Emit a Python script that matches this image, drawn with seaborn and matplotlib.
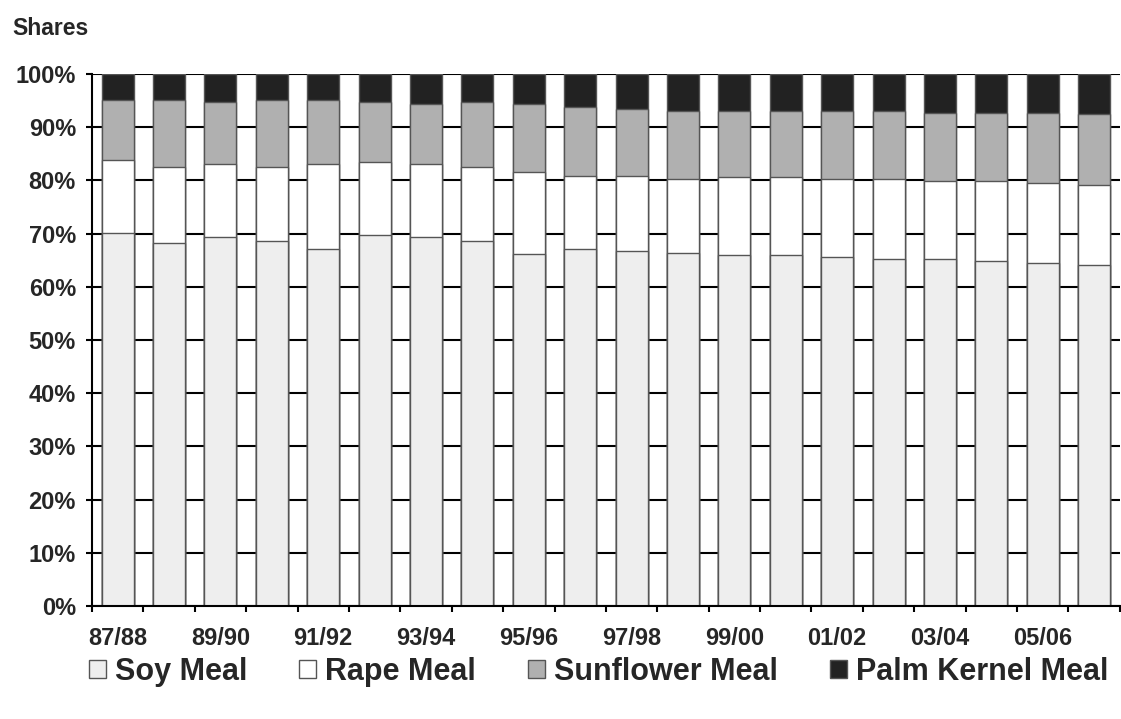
import numpy as np
import pandas as pd
import seaborn as sns
import matplotlib.pyplot as plt
from matplotlib.patches import Patch
from matplotlib.ticker import FixedLocator, PercentFormatter

# seasons
seasons = ['87/88', '88/89', '89/90', '90/91', '91/92', '92/93', '93/94', '94/95',
           '95/96', '96/97', '97/98', '98/99', '99/00', '00/01', '01/02', '02/03',
           '03/04', '04/05', '05/06', '06/07']

# shares in %
soy = [70.2, 68.3, 69.4, 68.7, 67.2, 69.8, 69.4, 68.6, 66.2, 67.1,
       66.7, 66.3, 66.0, 66.0, 65.6, 65.2, 65.2, 64.8, 64.4, 64.1]
rape = [13.7, 14.3, 13.7, 13.9, 15.9, 13.6, 13.7, 14.0, 15.3, 13.7,
        14.1, 14.0, 14.6, 14.6, 14.7, 15.1, 14.7, 15.1, 15.2, 15.0]
sunflower = [11.3, 12.6, 11.6, 12.6, 12.1, 11.3, 11.3, 12.1, 12.9, 13.1,
             12.7, 12.8, 12.5, 12.5, 12.8, 12.8, 12.8, 12.8, 13.1, 13.3]
palm = [4.8, 4.8, 5.3, 4.8, 4.8, 5.3, 5.6, 5.3, 5.6, 6.1,
        6.5, 6.9, 6.9, 6.9, 6.9, 6.9, 7.3, 7.3, 7.3, 7.6]

names = ['Soy Meal', 'Rape Meal', 'Sunflower Meal', 'Palm Kernel Meal']
colors = ['#eeeeee', '#ffffff', '#b0b0b0', '#222222']

df = pd.DataFrame({'season': seasons, 'Soy Meal': soy, 'Rape Meal': rape,
                   'Sunflower Meal': sunflower, 'Palm Kernel Meal': palm})

sns.set_style('white')
plt.rcParams['font.family'] = ['Liberation Sans', 'DejaVu Sans']
plt.rcParams['font.weight'] = 'bold'

fig = plt.figure(figsize=(11.21, 7.19), dpi=100)
ax = fig.add_axes([0.082, 0.157, 0.917, 0.740])

# stacked bars: draw cumulative totals from the top layer down
cum = df[names].cumsum(axis=1)
for name, col in zip(names[::-1], colors[::-1]):
    sns.barplot(x=df['season'], y=cum[name], color=col, width=0.62,
                edgecolor='#555555', linewidth=1, saturation=1, ax=ax)

ax.set_ylim(0, 100)
ax.set_xlim(-0.5, len(seasons) - 0.5)
ax.set_yticks(np.arange(0, 101, 10))
ax.yaxis.set_major_formatter(PercentFormatter(decimals=0))
ax.grid(axis='y', color='black', linewidth=1.5)
ax.set_axisbelow(True)

# ticks at category boundaries, labels every other season
ax.xaxis.set_major_locator(FixedLocator(np.arange(-0.5, len(seasons), 1)))
ax.set_xticklabels([''] * (len(seasons) + 1))
ax.xaxis.set_minor_locator(FixedLocator(np.arange(0, len(seasons), 2)))
ax.set_xticklabels(seasons[::2], minor=True)
ax.tick_params(axis='x', which='major', length=4.5, width=1.5, color='black', direction='out', bottom=True)
ax.tick_params(axis='x', which='minor', length=0, pad=15, labelsize=17)
ax.tick_params(axis='y', length=4.5, width=1.5, color='black', direction='out', left=True, labelsize=17, pad=7)
for lab in ax.get_xticklabels(minor=True) + ax.get_yticklabels():
    lab.set_fontweight('bold')

ax.set_xlabel('')
ax.set_ylabel('')
for s in ['top', 'right']:
    ax.spines[s].set_visible(False)
for s in ['left', 'bottom']:
    ax.spines[s].set_color('black')
    ax.spines[s].set_linewidth(1.5)

fig.text(0.011, 0.961, 'Shares', fontsize=16.5, fontweight='bold', ha='left', va='center')

handles = [Patch(facecolor=c, edgecolor='#555555', label=n) for n, c in zip(names, colors)]
fig.legend(handles=handles, loc='center', bbox_to_anchor=(0.534, 0.066), ncol=4,
           frameon=False, prop={'size': 22, 'weight': 'bold'}, handlelength=0.55,
           handleheight=0.55, handletextpad=0.3, columnspacing=1.7)

fig.savefig('out.png', dpi=100)
